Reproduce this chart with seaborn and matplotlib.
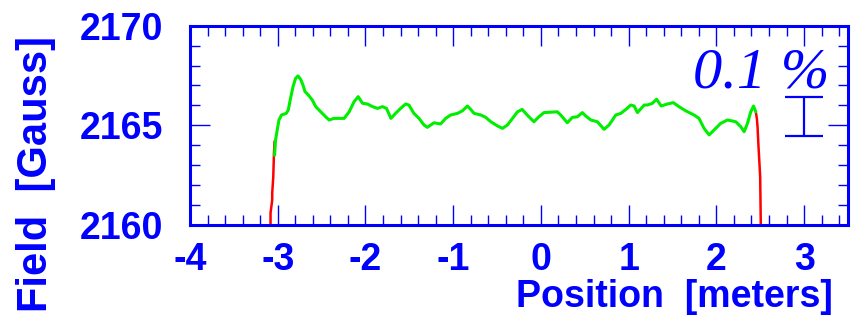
import matplotlib
matplotlib.use("Agg")
import matplotlib.pyplot as plt
import seaborn as sns
import pandas as pd
from matplotlib.ticker import MultipleLocator

# ---- data ----
green_x = [-3.036, -3.025, -3.006, -2.986, -2.957, -2.903, -2.88, -2.85, -2.826, -2.796,
           -2.769, -2.739, -2.712, -2.689, -2.651, -2.606, -2.567, -2.51, -2.453, -2.415,
           -2.358, -2.243, -2.186, -2.129, -2.083, -2.034, -1.977, -1.92, -1.863, -1.806,
           -1.76, -1.71, -1.657, -1.6, -1.543, -1.505, -1.448, -1.39, -1.333, -1.295,
           -1.219, -1.181, -1.143, -1.086, -1.029, -0.952, -0.895, -0.838, -0.8, -0.762,
           -0.686, -0.629, -0.571, -0.495, -0.438, -0.381, -0.324, -0.267, -0.214, -0.157,
           -0.08, -0.023, 0.034, 0.186, 0.225, 0.301, 0.358, 0.415, 0.472, 0.511,
           0.568, 0.643, 0.72, 0.777, 0.853, 0.91, 0.968, 1.025, 1.063, 1.10,
           1.177, 1.211, 1.269, 1.318, 1.371, 1.44, 1.509, 1.573, 1.65, 1.745,
           1.802, 1.859, 1.917, 1.974, 2.049, 2.126, 2.221, 2.278, 2.316, 2.354,
           2.392, 2.423, 2.449]
green_y = [2163.5, 2164.26, 2164.76, 2165.27, 2165.52, 2165.60, 2165.77, 2166.44, 2166.94, 2167.36,
           2167.48, 2167.31, 2167.02, 2166.69, 2166.52, 2166.27, 2165.94, 2165.68, 2165.43, 2165.27,
           2165.35, 2165.35, 2165.68, 2166.19, 2166.44, 2166.11, 2166.07, 2165.94, 2165.85, 2165.94,
           2165.85, 2165.35, 2165.60, 2165.85, 2166.07, 2166.02, 2165.60, 2165.35, 2165.02, 2164.90,
           2165.13, 2165.10, 2165.07, 2165.35, 2165.52, 2165.60, 2165.73, 2165.97, 2165.80, 2165.60,
           2165.52, 2165.40, 2165.18, 2164.97, 2164.85, 2165.02, 2165.35, 2165.68, 2165.80, 2165.52,
           2165.18, 2165.43, 2165.64, 2165.68, 2165.52, 2165.13, 2165.40, 2165.43, 2165.64, 2165.47,
           2165.27, 2165.18, 2164.80, 2165.02, 2165.52, 2165.60, 2165.80, 2166.02, 2165.97, 2165.64,
           2166.02, 2166.02, 2166.10, 2166.31, 2165.97, 2166.07, 2166.14, 2165.94, 2165.73, 2165.52,
           2165.35, 2164.85, 2164.52, 2164.77, 2165.10, 2165.27, 2165.18, 2164.93, 2164.68, 2165.10,
           2165.68, 2165.97, 2165.68]

red_left_x = [-3.082, -3.082, -3.063, -3.063, -3.051, -3.043, -3.036]
red_left_y = [2160.0, 2160.6, 2161.25, 2161.6, 2162.4, 2163.6, 2164.2]

red_right_x = [2.449, 2.461, 2.469, 2.48, 2.499, 2.506]
red_right_y = [2165.68, 2165.35, 2164.93, 2163.93, 2162.42, 2160.0]

x_ticks = [-4, -3, -2, -1, 0, 1, 2, 3]
y_ticks = [2160, 2165, 2170]

bar_x = [3.0]
bar_y = [2165.45]
bar_half = [0.98]
bar_text = "0.1 %"

BLUE = "#0000ff"
GREEN = "#00ee00"
RED = "#ff0000"

sns.set_style("white")
plt.rcParams["font.family"] = ["Liberation Sans", "DejaVu Sans"]

fig = plt.figure(figsize=(8.56, 3.2), dpi=100)
ax = fig.add_axes([190 / 856, 1 - 225 / 320, 658 / 856, (225 - 25.7) / 320])

df_g = pd.DataFrame({"x": green_x, "y": green_y})
df_rl = pd.DataFrame({"x": red_left_x, "y": red_left_y})
df_rr = pd.DataFrame({"x": red_right_x, "y": red_right_y})

sns.lineplot(data=df_rl, x="x", y="y", sort=False, estimator=None, color=RED, lw=1.8, ax=ax)
sns.lineplot(data=df_rr, x="x", y="y", sort=False, estimator=None, color=RED, lw=1.8, ax=ax)
sns.lineplot(data=df_g, x="x", y="y", sort=False, estimator=None, color=GREEN, lw=2.2, ax=ax)

ax.errorbar(bar_x, bar_y, yerr=bar_half, fmt="none", ecolor=BLUE, elinewidth=1.6,
            capsize=13.5, capthick=1.6)
ax.text(3.29, 2166.91, bar_text, color=BLUE, fontsize=42, fontstyle="italic",
        family=["Liberation Serif", "DejaVu Serif"], ha="right", va="baseline")

ax.set_xlim(-4, 3.5)
ax.set_ylim(2160, 2170)
ax.set_xticks(x_ticks)
ax.set_yticks(y_ticks)
ax.xaxis.set_minor_locator(MultipleLocator(0.2))
ax.yaxis.set_minor_locator(MultipleLocator(1))
ax.set_xticklabels([str(t) for t in x_ticks])
ax.set_yticklabels([str(t) for t in y_ticks])

for s in ax.spines.values():
    s.set_color(BLUE)
    s.set_linewidth(2.2)

ax.tick_params(which="both", direction="in", top=True, right=True, bottom=True, left=True,
               color=BLUE, width=1.0, labelcolor=BLUE)
ax.tick_params(which="major", length=14.5)
ax.tick_params(which="minor", length=7.5)
ax.tick_params(axis="x", which="major", pad=12, labelsize=27)
ax.tick_params(axis="y", which="major", pad=19, labelsize=27)
for lab in ax.get_xticklabels() + ax.get_yticklabels():
    lab.set_fontweight("bold")

ax.set_xlabel("")
ax.set_ylabel("")
fig.text(833 / 856, (320 - 307) / 320, "Position  [meters]", color=BLUE, fontsize=27,
         fontweight="bold", ha="right", va="baseline")
fig.text(36 / 856, (320 - 312) / 320, "Field  [Gauss]", color=BLUE, fontsize=30,
         fontweight="bold", rotation=90, ha="center", va="bottom")

fig.savefig("out.png", dpi=100, facecolor="white")
